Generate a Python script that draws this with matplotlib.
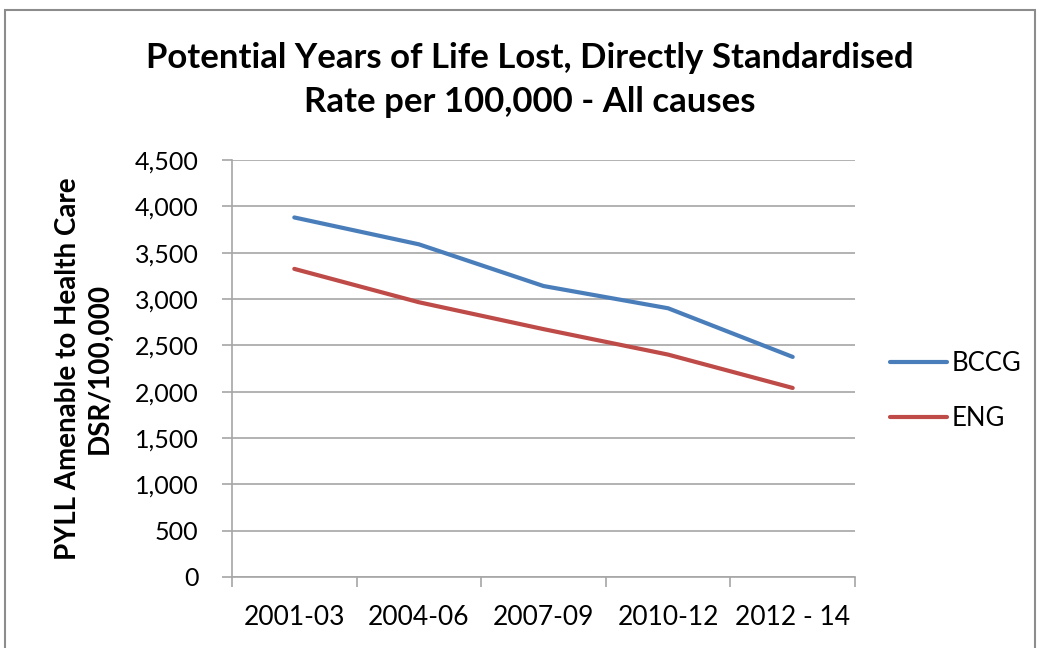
import matplotlib.pyplot as plt
from matplotlib.patches import Rectangle
from matplotlib.ticker import FuncFormatter, FixedLocator

periods = ["2001-03", "2004-06", "2007-09", "2010-12", "2012 - 14"]
bccg = [3880, 3590, 3140, 2900, 2375]
eng = [3325, 2965, 2675, 2400, 2040]

plt.rcParams['font.family'] = ['Lato', 'DejaVu Sans']

fig = plt.figure(figsize=(10.4, 6.48), dpi=100)
ax = fig.add_axes([232 / 1040, 1 - 577 / 648, 623 / 1040, 417 / 648])

# chart frame
fig.patches.append(Rectangle((5 / 1040, -0.05), 1030 / 1040, 1 - 10 / 648 + 0.05,
                             transform=fig.transFigure, fill=False,
                             edgecolor='#8c8c8c', linewidth=1.5))

x = range(len(periods))
ax.plot(x, bccg, color='#4A7EBB', linewidth=3, label='BCCG', solid_capstyle='round')
ax.plot(x, eng, color='#BE4B48', linewidth=3, label='ENG', solid_capstyle='round')

ax.set_xlim(-0.5, len(periods) - 0.5)
ax.set_ylim(0, 4500)
ax.set_yticks(range(0, 4501, 500))
ax.yaxis.set_major_formatter(FuncFormatter(lambda v, p: f"{int(v):,}"))
ax.grid(axis='y', color='#a6a6a6', linewidth=1.2)
ax.set_axisbelow(True)

ax.xaxis.set_major_locator(FixedLocator([i - 0.5 for i in range(len(periods) + 1)]))
ax.xaxis.set_major_formatter(FuncFormatter(lambda v, p: ""))
ax.xaxis.set_minor_locator(FixedLocator(list(x)))
ax.set_xticklabels(periods, minor=True)
ax.tick_params(axis='x', which='major', length=7, color='#a6a6a6', width=1.2)
ax.tick_params(axis='x', which='minor', length=0, pad=20, labelsize=19)
ax.tick_params(axis='y', length=7, color='#a6a6a6', width=1.2, labelsize=18, pad=17)

for s in ['top', 'right']:
    ax.spines[s].set_visible(False)
for s in ['left', 'bottom']:
    ax.spines[s].set_color('#a6a6a6')
    ax.spines[s].set_linewidth(1.2)

ax.set_ylabel("PYLL Amenable to Health Care\nDSR/100,000", fontsize=20,
              fontweight='bold', labelpad=16, linespacing=1.25)

fig.suptitle("Potential Years of Life Lost, Directly Standardised\nRate per 100,000 - All causes",
             fontsize=25, fontweight='bold', y=1 - 42 / 648, va='top', linespacing=1.45,
             x=530 / 1040)

ax.legend(loc='center left', bbox_to_anchor=(890 / 1040, 1 - 391 / 648),
          bbox_transform=fig.transFigure, frameon=False, borderpad=0, borderaxespad=0,
          fontsize=18.5, handlelength=2.2, handletextpad=0.2, labelspacing=1.2)

fig.savefig("out.png", dpi=100, facecolor='white')
